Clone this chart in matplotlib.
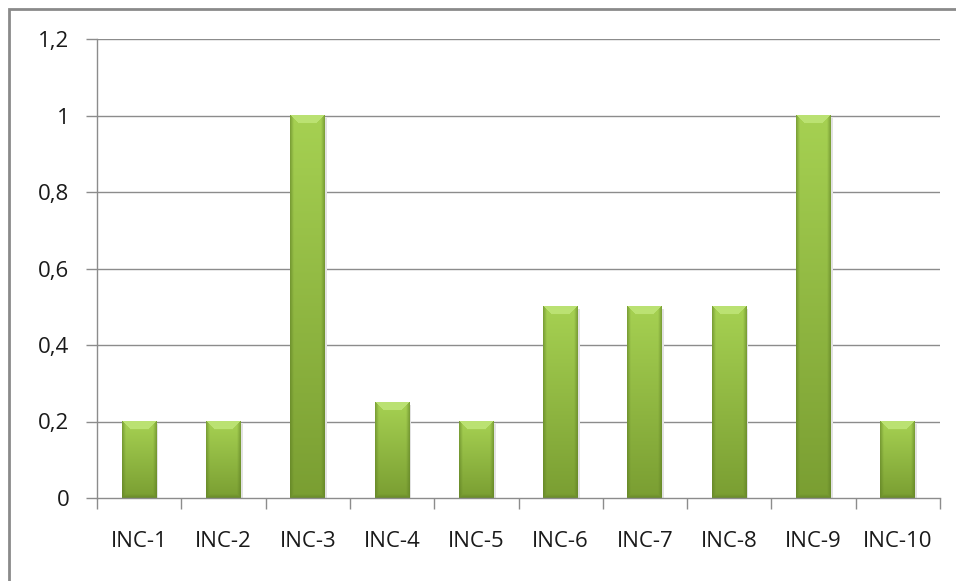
import numpy as np
import matplotlib.pyplot as plt
from matplotlib.patches import Rectangle

categories = ['INC-1', 'INC-2', 'INC-3', 'INC-4', 'INC-5',
              'INC-6', 'INC-7', 'INC-8', 'INC-9', 'INC-10']
values = [0.2, 0.2, 1.0, 0.25, 0.2, 0.5, 0.5, 0.5, 1.0, 0.2]
yticks = [0, 0.2, 0.4, 0.6, 0.8, 1.0, 1.2]
ytick_labels = ['0', '0,2', '0,4', '0,6', '0,8', '1', '1,2']

plt.rcParams['font.family'] = ['Open Sans', 'DejaVu Sans']

W, H = 956, 581
fig = plt.figure(figsize=(W / 100, H / 100), dpi=100)
ax = fig.add_axes([97 / W, 1 - 498 / H, (940 - 97) / W, (498 - 39) / H])

n = len(categories)
grid_c = '#8c8c8c'
for y in yticks[1:]:
    ax.axhline(y, color=grid_c, lw=1, zorder=0)

bar_w = 0.415
top_c = np.array([0xa6, 0xd1, 0x52]) / 255
bot_c = np.array([0x7a, 0x9e, 0x32]) / 255
edge_c = np.array([0x5a, 0x7a, 0x22]) / 255
face_c = np.array([0xbb, 0xe2, 0x72]) / 255

# pixel size of one data unit
px_x = (940 - 97) / n
px_y = (498 - 39) / 1.2
bevel = 8

def bar_image(h):
    wpx = int(round(bar_w * px_x))
    hpx = max(int(round(h * px_y)), 2)
    t = np.linspace(0, 1, hpx)[:, None, None]
    img = top_c * (1 - t) + bot_c * t
    img = np.repeat(img, wpx, axis=1)
    xx = np.arange(wpx)[None, :] + 0.5
    yy = np.arange(hpx)[:, None] + 0.5
    dxs = np.minimum(xx, wpx - xx)
    dyb = hpx - yy
    # darker rim along the sides and bottom
    rim = np.clip(1 - np.minimum(dxs, dyb) / 4, 0, 1)
    img = img * (1 - rim[..., None] * 0.6) + edge_c * rim[..., None] * 0.6
    top = (yy < bevel) & (yy < dxs)
    img[top] = face_c
    return np.clip(img, 0, 1)

for i, v in enumerate(values):
    x0 = i - bar_w / 2
    # soft shadow on the right
    ax.add_patch(Rectangle((x0 + 0.02, 0), bar_w, v - 0.006,
                           color='#e2e2e2', lw=0, zorder=1))
    ax.imshow(bar_image(v), extent=[x0, x0 + bar_w, 0, v],
              aspect='auto', interpolation='bilinear', zorder=2)

ax.set_xlim(-0.5, n - 0.5)
ax.set_ylim(0, 1.2)

ax.set_yticks(yticks)
ax.set_yticklabels(ytick_labels)
ax.set_xticks(np.arange(-0.5, n, 1.0))
ax.set_xticklabels([])
ax.set_xticks(np.arange(n), minor=True)
ax.set_xticklabels(categories, minor=True)
ax.tick_params(axis='x', which='minor', length=0, pad=24, labelsize=16,
               colors='#1a1a1a')
ax.tick_params(axis='x', which='major', length=8, color=grid_c, width=1)
ax.tick_params(axis='y', length=8, color=grid_c, width=1, pad=12,
               labelsize=16, labelcolor='#1a1a1a')

for s in ['top', 'right']:
    ax.spines[s].set_visible(False)
for s in ['left', 'bottom']:
    ax.spines[s].set_color(grid_c)
    ax.spines[s].set_linewidth(1)

# chart frame, running off the right and bottom edges
fig.patches.append(Rectangle((9 / W, -0.05), 1.1, 1 - 9 / H + 0.05,
                             transform=fig.transFigure, fill=False,
                             edgecolor='#8a8a8a', lw=2))

fig.savefig('out.png', dpi=100)
